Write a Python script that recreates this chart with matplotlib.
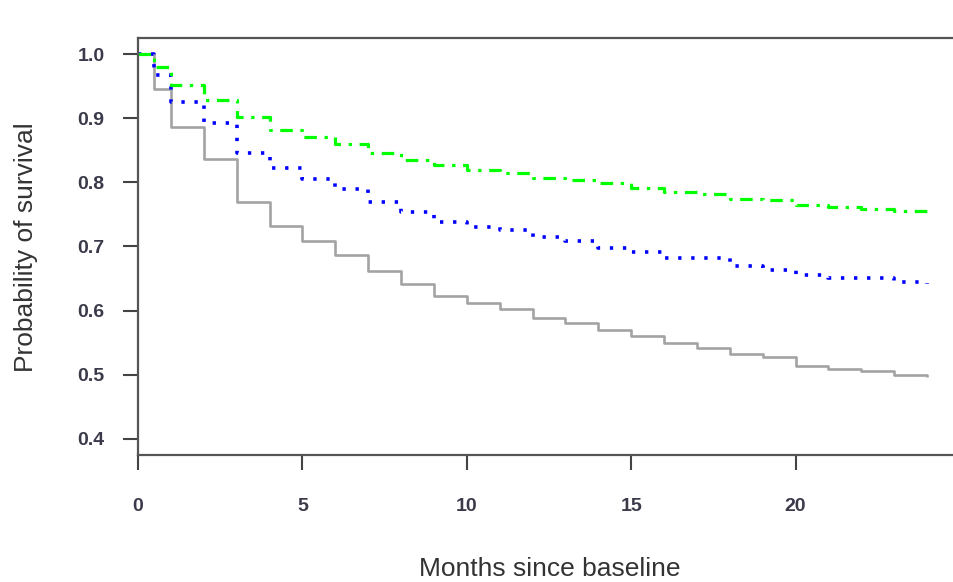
import matplotlib
matplotlib.use('Agg')
import matplotlib.pyplot as plt

# survival curves (months, probability)
grey_t = [0, 0.5, 1, 2, 3, 4, 5, 6, 7, 8, 9, 10, 11, 12, 13, 14, 15, 16, 17, 18, 19, 20, 21, 22, 23, 24]
grey_s = [1.0, 0.946, 0.886, 0.837, 0.770, 0.732, 0.709, 0.686, 0.662, 0.642, 0.623, 0.612, 0.603,
          0.589, 0.581, 0.570, 0.560, 0.550, 0.542, 0.533, 0.527, 0.514, 0.509, 0.506, 0.500, 0.497]

blue_t = [0, 0.5, 1, 2, 3, 4, 5, 6, 7, 8, 9, 10, 11, 12, 13, 14, 15, 16, 18, 19, 20, 21, 23, 24]
blue_s = [1.0, 0.968, 0.925, 0.893, 0.846, 0.822, 0.805, 0.789, 0.770, 0.754, 0.738, 0.731,
          0.725, 0.715, 0.709, 0.698, 0.691, 0.682, 0.669, 0.664, 0.656, 0.651, 0.644, 0.642]

green_t = [0, 0.5, 1, 2, 3, 4, 5, 6, 7, 8, 9, 10, 11, 12, 13, 14, 15, 16, 17, 18, 19, 20, 21, 22, 23, 24]
green_s = [1.0, 0.980, 0.952, 0.929, 0.902, 0.881, 0.871, 0.860, 0.846, 0.835, 0.827, 0.820, 0.815,
           0.807, 0.803, 0.799, 0.791, 0.785, 0.782, 0.774, 0.772, 0.765, 0.761, 0.759, 0.755, 0.753]

xticks = [0, 5, 10, 15, 20]
yticks = [0.4, 0.5, 0.6, 0.7, 0.8, 0.9, 1.0]

plt.rcParams['font.family'] = ['Liberation Sans', 'DejaVu Sans']
plt.rcParams['lines.scale_dashes'] = False

fig = plt.figure(figsize=(9.54, 5.82), dpi=100)
ax = fig.add_axes([138/954, 127/582, 822/954, 417/582])

ax.step(grey_t, grey_s, where='post', color='#a3a3a3', lw=1.9, solid_capstyle='butt')
ax.step(blue_t, blue_s, where='post', color='#0000ff', lw=2.6, dashes=(2.4, 7.0))
ax.step(green_t, green_s, where='post', color='#00ff00', lw=2.3, dashes=(9, 5.5, 2.4, 5.5))

ax.set_xlim(0, 25)
ax.set_ylim(0.375, 1.025)
ax.set_xticks(xticks)
ax.set_yticks(yticks)
ax.set_xticklabels([str(x) for x in xticks], fontsize=14, fontweight='bold', color='#3a3a4a')
ax.set_yticklabels(['%.1f' % y for y in yticks], fontsize=14, fontweight='bold', color='#3a3a4a')
ax.tick_params(axis='x', length=11, width=1.5, color='#444444', pad=20)
ax.tick_params(axis='y', length=11, width=1.5, color='#444444', pad=13)
for sp in ax.spines.values():
    sp.set_color('#555555')
    sp.set_linewidth(1.6)

fig.text(550/954, 1 - 569/582, 'Months since baseline', fontsize=19, color='#333333',
         ha='center', va='center')
fig.text(26/954, 1 - 247/582, 'Probability of survival', fontsize=19, color='#333333',
         ha='center', va='center', rotation=90)

fig.savefig('out.png', dpi=100)
